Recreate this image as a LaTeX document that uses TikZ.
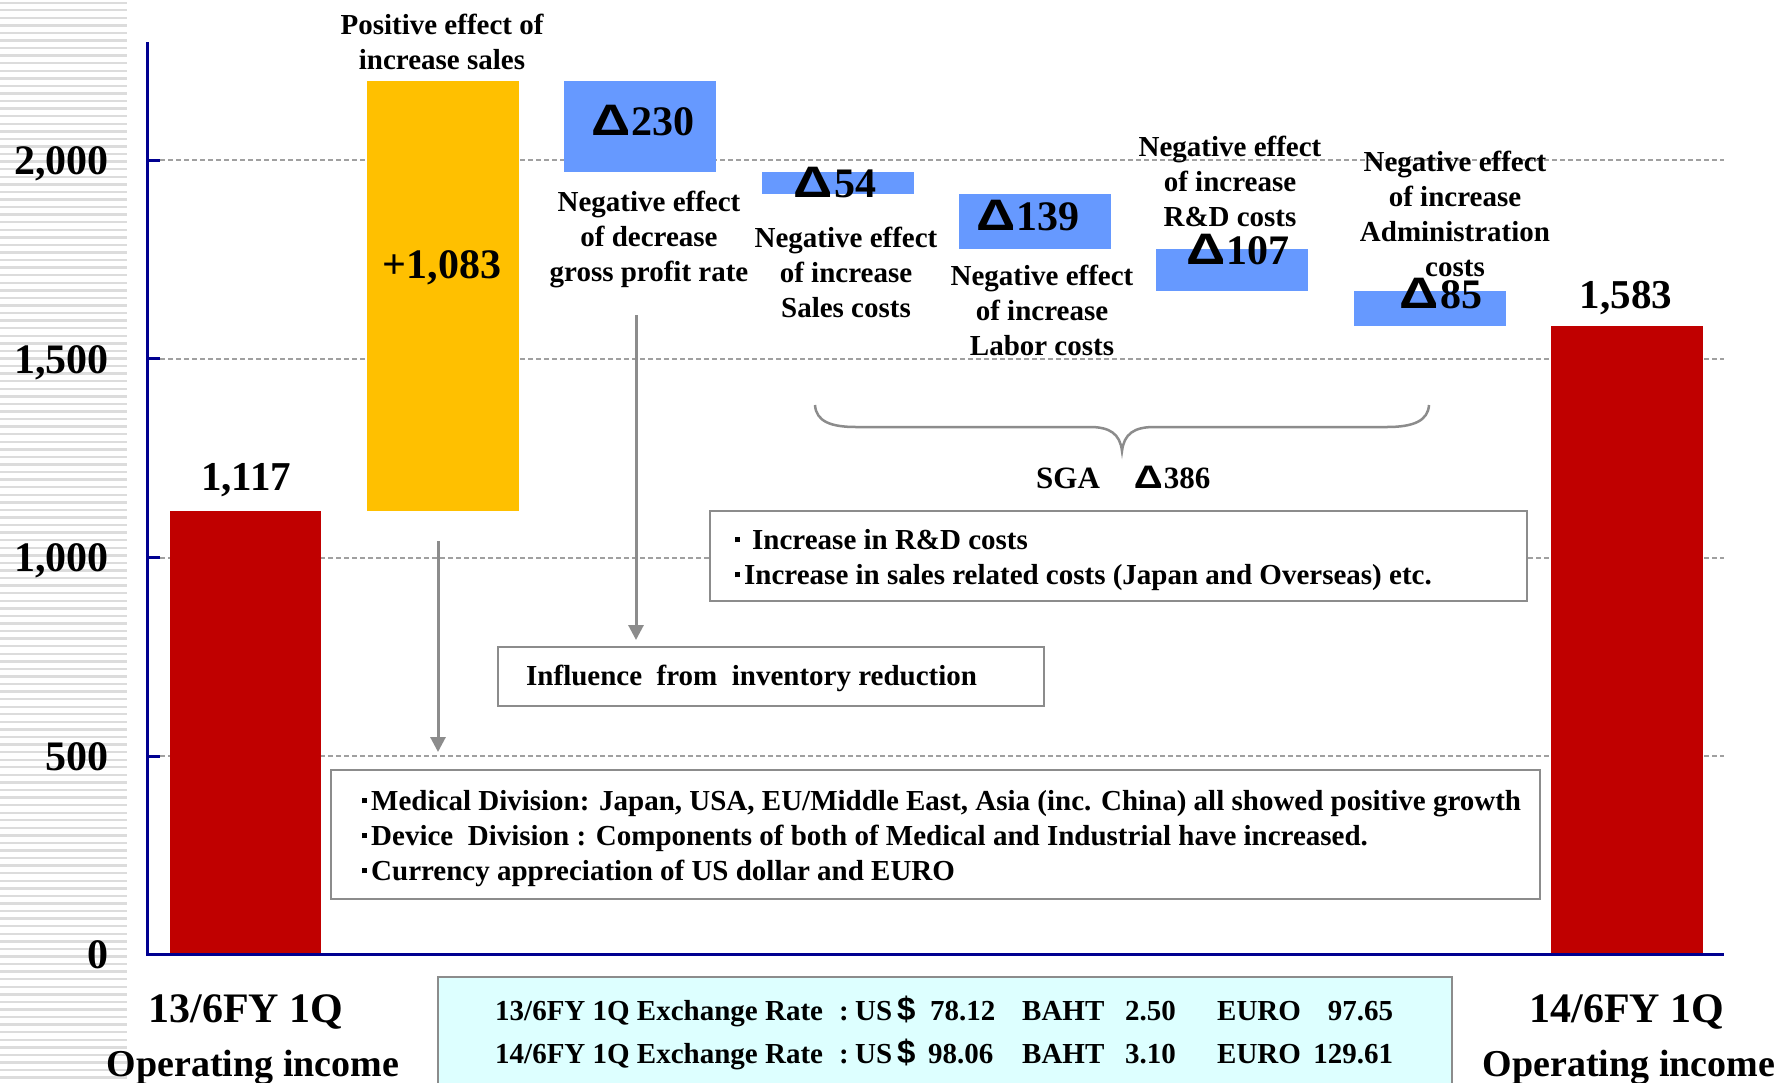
\documentclass[tikz,border=0pt]{standalone}
\usepackage{fontspec}
\usepackage{graphicx}
\setmainfont{Liberation Serif}
\newfontfamily\dollarfont{Liberation Sans}
\usetikzlibrary{arrows.meta}
\definecolor{barred}{HTML}{C00000}
\definecolor{baryellow}{HTML}{FFC000}
\definecolor{barblue}{HTML}{6699FF}
\definecolor{axisnavy}{HTML}{000090}
\definecolor{gridgray}{HTML}{A0A0A0}
\definecolor{boxgray}{HTML}{8C8C8C}
\definecolor{stripegray}{HTML}{DCDCDC}
\definecolor{ratefill}{HTML}{DDFFFF}
\newcommand\tri{\scalebox{1.3}[1.05]{\dollarfont Δ}\hspace*{1pt}}
\newcommand\bul{\rule[7pt]{5pt}{5pt}\hspace*{4pt}}
\newcommand\putat[2]{\makebox[0pt][l]{\hspace*{#1}#2}}
\newcommand\putr[2]{\makebox[0pt][l]{\hspace*{#1}\makebox[0pt][r]{#2}}}
\newcommand\dol{{\dollarfont\fontsize{33}{40}\selectfont\$}}
\begin{document}
\begin{tikzpicture}[x=1pt, y=-1pt,
  barbox/.style={rectangle, inner sep=0pt, outer sep=0pt, anchor=north west, draw=none},
  infobox/.style={rectangle, inner sep=0pt, outer sep=0pt, anchor=north west, draw=boxgray, line width=2.5pt, fill=white},
  ylab/.style={inner sep=0pt, anchor=base east, font=\bfseries\fontsize{42}{50}\selectfont},
  vallab/.style={inner sep=0pt, anchor=base, font=\bfseries\fontsize{41}{49}\selectfont},
  dlab/.style={inner sep=0pt, anchor=base, font=\bfseries\fontsize{42}{50}\selectfont},
  desc/.style={inner sep=0pt, anchor=north, align=center, font=\bfseries\fontsize{29}{35}\selectfont},
  boxtext/.style={inner sep=0pt, anchor=north west, align=left, font=\bfseries\fontsize{29}{35}\selectfont},
  ratetext/.style={inner sep=0pt, anchor=base west, font=\bfseries\fontsize{29}{35}\selectfont},
  catlab/.style={inner sep=0pt, anchor=base, font=\bfseries\fontsize{42}{50}\selectfont},
  oplab/.style={inner sep=0pt, anchor=base, font=\bfseries\fontsize{38}{46}\selectfont},
  gridline/.style={gridgray, line width=2pt, dash pattern=on 5pt off 3pt},
  axisline/.style={axisnavy, line width=3pt},
  pointer/.style={boxgray, line width=3pt, -{Triangle[length=15pt,width=15pt]}},
  bracec/.style={boxgray, line width=2.5pt},
]
\useasboundingbox (0,0) rectangle (1775,1082);
\fill[white] (0,0) rectangle (1775,1082);
% striped side panel
\foreach \k in {0,...,142} {
  \draw[stripegray, line width=2.4pt] (0,{2.7+7.57*\k}) -- (127,{2.7+7.57*\k});
}
% grid lines
\foreach \gy in {160.3,358.9,557.5,756.0} {
  \draw[gridline] (160,\gy) -- (1724,\gy);
  \draw[axisline] (147,\gy) -- (160,\gy);
}
% y labels
\node[ylab] (y2000) at (109,174) {2,000};
\node[ylab] (y1500) at (109,373) {1,500};
\node[ylab] (y1000) at (109,571.5) {1,000};
\node[ylab] (y500) at (109,770) {500};
\node[ylab] (y0) at (109,968.6) {0};
% bars
\node[barbox, fill=barred, minimum width=151pt, minimum height=443.6pt] (bar1) at (170,511) {};
\node[barbox, fill=baryellow, minimum width=152pt, minimum height=430pt] (barsales) at (367,81) {};
\node[barbox, fill=barblue, minimum width=152pt, minimum height=91.2pt] (bargp) at (564,81) {};
\node[barbox, fill=barblue, minimum width=152pt, minimum height=21.5pt] (barsc) at (762,172.2) {};
\node[barbox, fill=barblue, minimum width=152pt, minimum height=55.2pt] (barlab) at (959,193.7) {};
\node[barbox, fill=barblue, minimum width=152pt, minimum height=42.5pt] (barrd) at (1156,248.9) {};
\node[barbox, fill=barblue, minimum width=152pt, minimum height=34.6pt] (baradm) at (1354,291.4) {};
\node[barbox, fill=barred, minimum width=152pt, minimum height=628.6pt] (bar2) at (1551,326) {};
% axes
\coordinate (axtop) at (147,42);
\coordinate (axorigin) at (147,954.6);
\coordinate (axright) at (1724,954.6);
\draw[axisline] (axtop) -- (axorigin) -- (axright);
% bar labels
\node[vallab] (v1117) at (246,490) {1,117};
\node[vallab] (v1583) at (1626,308) {1,583};
\node[dlab] (v1083) at (442,278) {+1,083};
\node[dlab] (d230) at (643,135) {\tri230};
\node[dlab] (d54) at (835,197) {\tri54};
\node[dlab] (d139) at (1028,230) {\tri139};
\node[dlab] (d107) at (1238,264) {\tri107};
\node[dlab] (d85) at (1441,308) {\tri85};
% descriptions
\node[desc] (tsales) at (442,14) {Positive effect of\\increase sales};
\node[desc] (tgp) at (649,191) {Negative effect\\of decrease\\gross profit rate};
\node[desc] (tsc) at (846,227) {Negative effect\\of increase\\Sales costs};
\node[desc] (tlab) at (1042,265) {Negative effect\\of increase\\Labor costs};
\node[desc] (trd) at (1230,136) {Negative effect\\of increase\\R\&D costs};
\node[desc] (tadm) at (1455,151) {Negative effect\\of increase\\Administration\\costs};
% SGA brace
\draw[bracec] (815,405) .. controls (816,422) and (832,427) .. (856,427) -- (1090,427)
  .. controls (1110,427) and (1120,434) .. (1122,451)
  .. controls (1124,434) and (1134,427) .. (1154,427) -- (1387,427)
  .. controls (1413,427) and (1428,421) .. (1429,405);
\node[inner sep=0pt, anchor=base west, font=\bfseries\fontsize{31}{37}\selectfont] (sga) at (1036,488) {SGA\hspace*{34pt}\tri386};
% info boxes
\node[infobox, minimum width=817pt, minimum height=90pt] (sgabox) at (710,511) {};
\node[boxtext] (sgatext) at (735,529) {\rule[7pt]{5pt}{5pt}\hspace*{12pt}Increase in R\&D costs\\\bul Increase in sales related costs (Japan and Overseas) etc.};
\node[infobox, minimum width=546pt, minimum height=59pt] (invbox) at (498,647) {};
\node[inner sep=0pt, anchor=base west, font=\bfseries\fontsize{29}{35}\selectfont] (invtext) at (526,685) {Influence\ \ from\ \ inventory reduction};
\node[infobox, minimum width=1209pt, minimum height=129pt] (medbox) at (331,770) {};
\node[boxtext] (medtext) at (362,790) {\bul Medical Division: Japan, USA, EU/Middle East, Asia (inc. China) all showed positive growth\\\bul Device\ \ Division : Components of both of Medical and Industrial have increased.\\\bul Currency appreciation of US dollar and EURO};
% arrows
\coordinate (a1s) at (438,541);
\coordinate (a1e) at (438,752);
\coordinate (a2s) at (636,315);
\coordinate (a2e) at (636,640);
\draw[pointer] (a1s) -- (a1e);
\draw[pointer] (a2s) -- (a2e);
% exchange rate box
\node[infobox, fill=ratefill, minimum width=1014pt, minimum height=120pt] (ratebox) at (438,977) {};
\node[ratetext] (rate1) at (495,1020) {\putat{0pt}{13/6FY 1Q Exchange Rate}\putat{344pt}{:}\putat{360pt}{US}\putat{402pt}{\dol}\putat{435pt}{78.12}\putat{527pt}{BAHT}\putat{630pt}{2.50}\putat{722pt}{EURO}\putr{898pt}{97.65}\hspace*{898pt}};
\node[ratetext] (rate2) at (495,1063) {\putat{0pt}{14/6FY 1Q Exchange Rate}\putat{344pt}{:}\putat{360pt}{US}\putat{402pt}{\dol}\putat{433pt}{98.06}\putat{527pt}{BAHT}\putat{630pt}{3.10}\putat{722pt}{EURO}\putr{898pt}{129.61}\hspace*{898pt}};
% category labels
\node[catlab] (cat1) at (246,1022) {13/6FY 1Q};
\node[oplab] (op1) at (253,1076) {Operating income};
\node[catlab] (cat2) at (1627,1022) {14/6FY 1Q};
\node[oplab] (op2) at (1629,1076) {Operating income};
\end{tikzpicture}
\end{document}
